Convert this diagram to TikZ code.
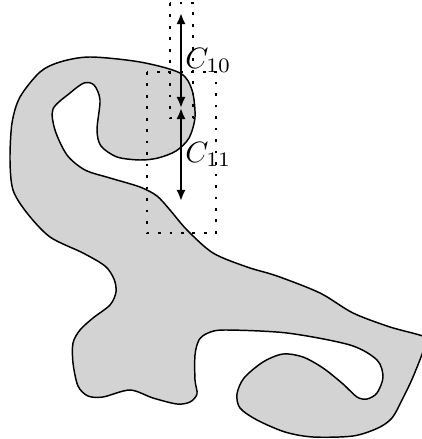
\documentclass[tikz,border=0pt]{standalone}
\usepackage{tikz}
\usetikzlibrary{positioning, calc, arrows.meta}
\definecolor{regionFill}{HTML}{D3D3D3}
\definecolor{regionLine}{HTML}{000000}

\tikzset{
  boxline/.style={draw=black, line width=0.4pt, dash pattern=on 0.9pt off 3pt},
  cutarrow/.style={{Latex[length=3.8pt,width=3.2pt]}-{Latex[length=3.8pt,width=3.2pt]}, line width=1pt},
  cutlabel/.style={anchor=west, inner sep=1pt, font=\normalsize}
}

\begin{document}
\begin{tikzpicture}[x=0.34pt, y=-0.34pt]
  % Page frame in reference pixels
  \useasboundingbox (0,0) rectangle (422,439);

  % Grey region
  \draw[fill=regionFill, draw=regionLine, line width=0.5pt]
    plot[smooth cycle, tension=0.5] coordinates {
      (90,57) (140,62) (180,73) (192,90) (195,117) (189,138) (176,151)
      (158,158) (140,160) (117,157) (101,146) (97,130) (100,100)
      (94,85) (84,83) (70,93) (53,109) (55,130) (67,155) (85,170)
      (110,178) (140,187) (157,196) (170,210) (187,230) (213,253)
      (247,267) (277,276) (320,293) (353,313) (390,327) (425,337)
      (425,346) (413,377) (402,400) (392,418) (378,428) (353,436)
      (313,437) (285,432) (257,420) (240,408) (237,394) (244,378)
      (263,362) (283,354) (303,357) (323,368) (343,384) (357,397)
      (367,399) (377,393) (383,377) (377,360) (350,345) (287,333)
      (225,330) (208,333) (199,340) (195,355) (195,380) (197,394)
      (190,402) (177,404) (153,398) (130,390) (103,397) (88,396)
      (78,386) (73,363) (73,343) (80,330) (93,318) (110,305) (116,292)
      (114,279) (105,266) (83,253) (50,237) (27,213) (13,190) (10,160)
      (12,123) (20,97) (40,72) (60,62)
    };

  % Dotted boxes
  \draw[boxline] (170,3) rectangle (193,118);
  \draw[boxline] (147,72) rectangle (216,233);

  % Arrow end points
  \coordinate (topEnd) at (181,13);
  \coordinate (midEnd) at (181,108);
  \coordinate (lowEnd) at (181,201);

  % Arrows with labels
  \draw[cutarrow] (topEnd) -- node[cutlabel] (labTen) {$C_{10}$} (midEnd);
  \draw[cutarrow] (midEnd) -- node[cutlabel] (labEleven) {$C_{11}$} (lowEnd);
\end{tikzpicture}
\end{document}
